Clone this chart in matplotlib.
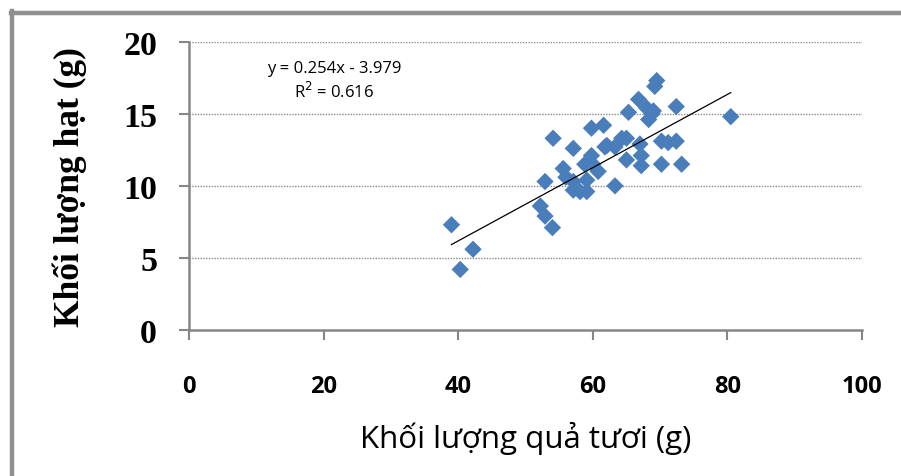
import matplotlib
matplotlib.use("Agg")
import matplotlib.pyplot as plt
from matplotlib.lines import Line2D
import numpy as np

# Data
fresh_fruit_mass = [39.0, 40.3, 42.2, 52.2, 52.9, 54.0, 52.9, 54.1, 55.6, 57.1,
                    57.1, 57.1, 58.1, 59.1, 59.1, 58.8, 59.8, 59.8, 61.6, 60.8,
                    61.8, 63.3, 63.3, 64.3, 65.0, 65.0, 65.3, 66.8, 67.0, 67.2,
                    67.2, 68.0, 68.8, 68.3, 69.5, 69.2, 70.2, 71.2, 72.4, 72.4,
                    70.2, 73.2, 80.5, 62.1, 60.0, 69.0, 56.0]
seed_mass = [7.3, 4.2, 5.6, 8.6, 7.9, 7.1, 10.3, 13.3, 11.2, 12.6,
             10.3, 9.7, 9.6, 9.6, 10.4, 11.5, 12.1, 14.0, 14.2, 11.0,
             12.7, 12.7, 10.0, 13.3, 13.3, 11.8, 15.1, 16.0, 12.9, 12.1,
             11.4, 15.4, 15.0, 14.6, 17.3, 16.9, 13.1, 13.0, 13.1, 15.5,
             11.5, 11.5, 14.8, 12.8, 11.5, 15.2, 10.6]
trend_slope = 0.254
trend_intercept = -3.979
r_squared = 0.616
x_ticks = [0, 20, 40, 60, 80, 100]
y_ticks = [0, 5, 10, 15, 20]

fig = plt.figure(figsize=(9.01, 4.77), dpi=100)
ax = fig.add_axes([0.2098, 0.3061, 0.7469, 0.6044])

ax.scatter(fresh_fruit_mass, seed_mass, marker='D', s=78, color='#4a7ebb',
           edgecolors='none', zorder=3)

xs = np.array([min(fresh_fruit_mass), max(fresh_fruit_mass)])
ax.plot(xs, trend_slope * xs + trend_intercept, color='black', lw=0.9, zorder=4)

ax.set_xlim(0, 100)
ax.set_ylim(0, 20)
ax.set_xticks(x_ticks)
ax.set_yticks(y_ticks)
ax.set_xticklabels([str(v) for v in x_ticks], family='Open Sans',
                   fontweight='bold', fontsize=17)
ax.set_yticklabels([str(v) for v in y_ticks], family='Liberation Serif',
                   fontweight='bold', fontsize=24.5)

for y in y_ticks[1:]:
    ax.axhline(y, color='#8a8a8a', lw=1.0, ls=(0, (1, 1)), zorder=1)

for side in ['top', 'right']:
    ax.spines[side].set_visible(False)
for side in ['left', 'bottom']:
    ax.spines[side].set_color('#868686')
    ax.spines[side].set_linewidth(1.8)
ax.tick_params(axis='both', colors='#868686', length=7, width=1.5)
ax.tick_params(axis='y', labelcolor='black', pad=16)
ax.tick_params(axis='x', labelcolor='black', pad=25)

ax.set_ylabel('Khối lượng hạt (g)', family='Liberation Serif',
              fontweight='bold', fontsize=25.5, labelpad=26)
ax.set_xlabel('Khối lượng quả tươi (g)', family='Open Sans',
              fontsize=22.5, labelpad=16)

eq_text = f'y = {trend_slope:.3f}x - {abs(trend_intercept):.3f}\nR$^2$ = {r_squared:.3f}'
ax.text(0.216, 0.935, eq_text, transform=ax.transAxes, ha='center', va='top',
        family='Open Sans', fontsize=12, linespacing=1.3)

# outer frame (top and left edges visible)
fig.add_artist(Line2D([0.012, 1.0], [1 - 13.5 / 477, 1 - 13.5 / 477],
                      transform=fig.transFigure, color='#8f8f8f', lw=3.2))
fig.add_artist(Line2D([12 / 901, 12 / 901], [0.0, 1 - 12 / 477],
                      transform=fig.transFigure, color='#8f8f8f', lw=3.2))

fig.savefig('out.png', dpi=100)
